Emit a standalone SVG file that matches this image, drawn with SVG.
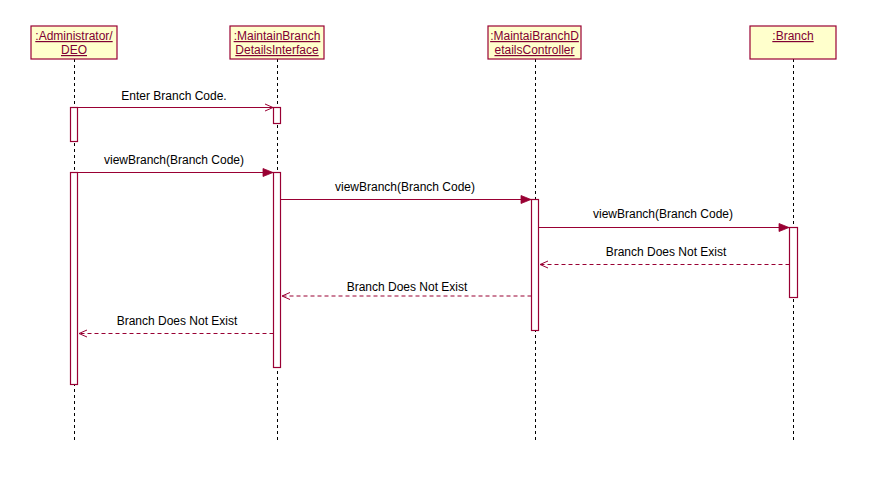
<svg xmlns="http://www.w3.org/2000/svg" width="890" height="481" viewBox="0 0 890 481">
<style>
.bg{fill:#ffffff}
.obj{fill:#ffffcc;stroke:#990033;stroke-width:1.2}
.name{font-family:"Liberation Sans",Arial,sans-serif;font-size:12px;fill:#800033;text-anchor:middle;text-decoration:underline}
.life{stroke:#000;stroke-width:1;stroke-dasharray:3,3;fill:none}
.act{fill:#ffffff;stroke:#990033;stroke-width:1.2}
.msg{stroke:#990033;stroke-width:1;fill:none}
.ret{stroke:#990033;stroke-width:1;fill:none;stroke-dasharray:4,3}
.lbl{font-family:"Liberation Sans",Arial,sans-serif;font-size:12px;fill:#000;text-anchor:middle}
</style>
<defs>
<marker id="filled" markerWidth="12" markerHeight="10" refX="11" refY="5" orient="auto" markerUnits="userSpaceOnUse">
<path d="M1,1 L11,5 L1,9 Z" fill="#990033" stroke="#990033" stroke-width="0.8"/>
</marker>
<marker id="open" markerWidth="12" markerHeight="10" refX="10" refY="5" orient="auto" markerUnits="userSpaceOnUse">
<path d="M2,1.5 L10,5 L2,8.5" fill="none" stroke="#990033" stroke-width="1"/>
</marker>
</defs>
<rect class="bg" x="0" y="0" width="890" height="481"/>

<g id="node-admin">
<line class="life" x1="74.5" y1="59" x2="74.5" y2="441"/>
<rect class="obj" x="31" y="26" width="86" height="33"/>
<text class="name" x="74" y="40">:Administrator/</text>
<text class="name" x="74" y="54">DEO</text>
<rect class="act" x="70.5" y="107.5" width="7" height="34"/>
<rect class="act" x="70.5" y="172.5" width="7" height="212"/>
</g>

<g id="node-interface">
<line class="life" x1="277.5" y1="59" x2="277.5" y2="441"/>
<rect class="obj" x="230" y="26" width="94" height="33"/>
<text class="name" x="277" y="40">:MaintainBranch</text>
<text class="name" x="277" y="54">DetailsInterface</text>
<rect class="act" x="273.5" y="107.5" width="7" height="16"/>
<rect class="act" x="273.5" y="172.5" width="7" height="195"/>
</g>

<g id="node-controller">
<line class="life" x1="535.5" y1="59" x2="535.5" y2="441"/>
<rect class="obj" x="488" y="26" width="93" height="33"/>
<text class="name" x="534.5" y="40">:MaintaiBranchD</text>
<text class="name" x="534.5" y="54">etailsController</text>
<rect class="act" x="531.5" y="199.5" width="7" height="131"/>
</g>

<g id="node-branch">
<line class="life" x1="793.5" y1="59" x2="793.5" y2="441"/>
<rect class="obj" x="750" y="26" width="86" height="33"/>
<text class="name" x="793" y="40">:Branch</text>
<rect class="act" x="789.5" y="227.5" width="8" height="70"/>
</g>

<g id="connectors">
<line class="msg" x1="77.5" y1="107.5" x2="273" y2="107.5" marker-end="url(#open)"/>
<text class="lbl" x="174" y="100">Enter Branch Code.</text>

<line class="msg" x1="77.5" y1="172.5" x2="273" y2="172.5" marker-end="url(#filled)"/>
<text class="lbl" x="174" y="164">viewBranch(Branch Code)</text>

<line class="msg" x1="280.5" y1="199.5" x2="531" y2="199.5" marker-end="url(#filled)"/>
<text class="lbl" x="405" y="191">viewBranch(Branch Code)</text>

<line class="msg" x1="538.5" y1="227.5" x2="789" y2="227.5" marker-end="url(#filled)"/>
<text class="lbl" x="663" y="218">viewBranch(Branch Code)</text>

<line class="ret" x1="789.5" y1="264.5" x2="540" y2="264.5" marker-end="url(#open)"/>
<text class="lbl" x="666" y="256">Branch Does Not Exist</text>

<line class="ret" x1="531.5" y1="296" x2="282" y2="296" marker-end="url(#open)"/>
<text class="lbl" x="407" y="291">Branch Does Not Exist</text>

<line class="ret" x1="273.5" y1="333.5" x2="79" y2="333.5" marker-end="url(#open)"/>
<text class="lbl" x="177" y="325">Branch Does Not Exist</text>
</g>
</svg>
